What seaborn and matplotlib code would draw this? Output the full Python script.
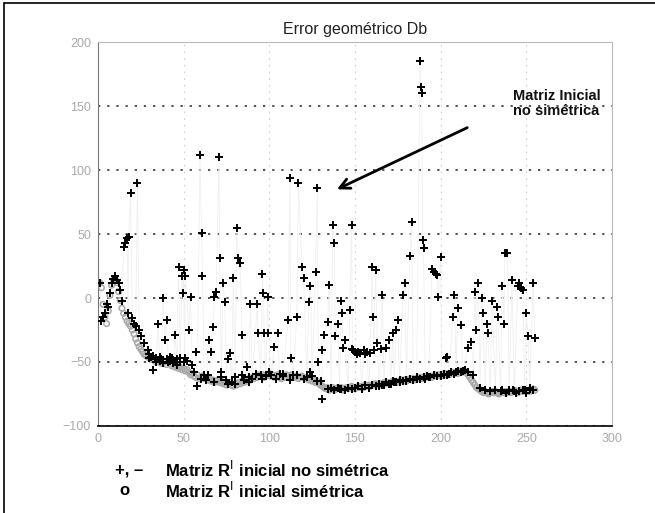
import matplotlib
matplotlib.use("Agg")
import matplotlib.pyplot as plt
import seaborn as sns
import numpy as np
import pandas as pd

sns.set_style("white")
plt.rcParams['font.family'] = ['Liberation Sans Narrow', 'Liberation Sans', 'DejaVu Sans']

title = "Error geométrico Db"
xticks = [0, 50, 100, 150, 200, 250, 300]
yticks = [-100, -50, 0, 50, 100, 150, 200]

# Series "+" : Matriz R inicial no simétrica (scattered points)
plus_x = [1, 2, 3, 4, 5, 6, 7, 8, 9, 10, 11, 12, 13, 14, 15, 16, 17, 18, 17.5, 19, 20, 21, 22, 23, 24, 25, 27, 29, 30,
          31, 32, 33, 34, 35, 36, 37, 38, 39, 40, 41, 42, 43, 44, 45, 46, 47, 48, 49, 49.5, 50, 51, 50.5,
          53, 54, 55, 56, 57, 58, 59.5, 60.5, 61, 62, 63, 65, 66, 67, 68, 69, 70.6, 71, 72, 73, 74, 75, 76, 77, 78, 79,
          80, 81, 82, 83, 84, 85, 87, 88, 89, 90, 93, 93.5, 95, 96, 96.5, 97, 98, 99, 99.5,
          101, 103, 105, 106, 108, 111, 112, 112.5, 114, 116, 117, 119, 120, 122, 123, 124, 125, 127, 128, 128.5,
          130, 130.5, 131, 132, 134, 135, 136, 137, 138, 138.5, 140, 141, 142, 142.5, 143, 144, 146, 147, 148, 148.5,
          149, 150,
          151, 152, 153, 154, 155, 156, 157, 158, 159, 160, 160.5, 161, 162, 163, 164, 165, 166, 167, 168, 170, 171,
          172, 173, 174, 175, 176, 178, 179, 180, 182, 183, 184, 186, 188, 188.5, 189, 189.5, 190, 191, 193, 195,
          196, 197, 198, 198.5, 200, 200.5,
          202, 203, 204, 205, 207, 208, 209, 210, 212, 213, 216, 218, 219, 220, 220.5, 222, 223, 224, 224.5, 226,
          227, 227.5, 229, 230, 232, 233, 233.5, 235, 236, 237, 237.5, 239, 240, 241.6, 243, 245, 246, 247, 248,
          249, 250, 251, 252, 254, 255]
plus_y = [12, -18, -15, -12, -5, -7, 4, 12, 15, 17, 14, 12, 6, -2, 40, 43, 47, 48, -12, 82, -16, -20, -22, 90, -25, -30, -35, -41, -44,
          -46, -56, -48, -47, -20, -49, -48, 0, -33, -17, -50, -49, -47, -51, -29, -48, 24, -50, 17, 4, 22, 17, -47,
          -25, 1, -52, -58, -42, -69, 112, 51, 17, -60, -64, -33, -42, -23, 1, 5, 110, 31, -62, 12, -3, -64, -48, -43, -66, 16,
          -67, 55, 31, 27, -29, -64, -54, -62, -5, -63, -5, -27, -60, 19, 4, -27, -61, 1, -27,
          -60, -38, -27, -59, -61, -17, 94, -47, -60, -15, 90, 24, 16, -62, -3, 9, -61, 20, 86, -50,
          -65, -79, -41, -29, -19, 10, -70, 57, 43, -30, -20, -71, -2, -12, -39, -33, -70, -9, 57, -40,
          -41, -42,
          -44, -42, -43, -71, -41, -44, -42, -70, -43, 24, -15, -41, 22, -35, -69, -40, 2, -68, -39, -33, -67,
          -27, -66, -25, -17, -66, 2, 12, -65, 33, 59, -64, -63, 185, 165, 160, 45, 39, -63, -62, 23,
          20, 19, 18, 1, 32, -61,
          -60, -47, -46, -59, -15, 2, -58, -8, -21, -57, -39, -34, -60, 5, -25, 12, -70, 0, -12, -72,
          -20, -27, -73, -2, -72, -7, -15, -73, 9, -20, 35, 35, -72, 14, -73, 9, 12, 8, 6,
          -72, -12, -30, -70, 12, -31]

# "+" points lying along the lower band (dense dark run in the picture)
band_x = [30, 32, 34, 36, 38, 40, 42, 44, 46, 48, 50, 52,
          60, 64, 68, 72, 76, 80, 84, 88, 92, 96, 100, 104, 108, 112, 116, 120, 124, 128,
          134, 136, 138, 140, 142, 144, 146, 148, 150, 152, 154, 156, 158, 160, 162, 164, 166, 168, 170, 172,
          174, 176, 178, 180, 182, 184, 186, 188, 190, 192, 194, 196, 198, 200, 202, 204, 206, 208, 210, 212,
          214, 216,
          236, 238, 240, 242, 244, 246, 248, 250, 252, 254]
band_y = [-47, -45, -50, -46, -51, -48, -46, -49, -52, -47, -50, -49,
          -63, -60, -66, -58, -67, -62, -60, -66, -59, -63, -58, -63, -59, -64, -60, -63, -58, -65,
          -71, -70, -72, -70, -71, -72, -70, -71, -70, -69, -71, -68, -70, -68, -69, -67, -68, -66, -67, -65,
          -66, -64, -65, -64, -63, -64, -62, -63, -62, -61, -62, -60, -61, -60, -59, -60, -58, -59, -57, -58,
          -56, -58,
          -72, -74, -73, -72, -74, -73, -72, -74, -71, -72]

# Series "o" : Matriz R inicial simétrica, one value per sample 1..255
sym_y = [12, 8, -5, -15, -20, -10, 2, 10, 14, 15,
         12, 5, -2, -8, -12, -15, -18, -20, -22, -25,
         -28, -32, -35, -38, -40, -42, -44, -45, -46, -47,
         -48, -47, -49, -50, -48, -50, -51, -49, -50, -52,
         -50, -51, -53, -52, -54, -53, -55, -54, -56, -55,
         -57, -56, -58, -60, -59, -61, -62, -60, -63, -62,
         -61, -63, -62, -64, -63, -65, -64, -66, -65, -64,
         -66, -65, -67, -66, -68, -67, -66, -68, -69, -67,
         -68, -66, -67, -65, -66, -64, -65, -63, -64, -62,
         -63, -61, -62, -60, -61, -60, -62, -61, -60, -59,
         -61, -60, -62, -61, -60, -62, -63, -61, -62, -60,
         -61, -62, -60, -61, -62, -61, -63, -62, -61, -62,
         -63, -62, -64, -63, -65, -64, -66, -65, -67, -68,
         -69, -70, -71, -70, -72, -71, -70, -72, -71, -70,
         -71, -70, -72, -71, -70, -71, -70, -69, -70, -71,
         -70, -69, -70, -69, -70, -68, -69, -68, -69, -68,
         -68, -67, -68, -67, -68, -67, -66, -67, -66, -67,
         -66, -65, -66, -65, -66, -65, -64, -65, -64, -65,
         -64, -63, -64, -63, -64, -63, -62, -63, -62, -63,
         -62, -61, -62, -61, -62, -61, -60, -61, -60, -61,
         -60, -59, -60, -59, -60, -59, -58, -59, -58, -59,
         -58, -57, -58, -57, -58, -60, -62, -64, -66, -68,
         -70, -71, -72, -73, -74, -73, -74, -75, -74, -73,
         -74, -73, -74, -75, -74, -73, -74, -73, -74, -73,
         -74, -73, -72, -73, -74, -73, -72, -73, -72, -73,
         -72, -73, -72, -71, -72]
sym_x = list(range(1, len(sym_y) + 1))

legend_symbols = ["+, \u2013", "o"]
legend_labels = ["Matriz R$^{\\mathrm{I}}$ inicial no simétrica",
                 "Matriz R$^{\\mathrm{I}}$ inicial simétrica"]
annot_text = "Matriz Inicial\nno simétrica"

df_plus = pd.DataFrame({"x": plus_x, "y": plus_y})
df_band = pd.DataFrame({"x": band_x, "y": band_y})
df_all_plus = pd.concat([df_plus, df_band], ignore_index=True)
df_sym = pd.DataFrame({"x": sym_x, "y": sym_y})

fig = plt.figure(figsize=(6.55, 5.13), dpi=100)
ax = fig.add_axes([0.1496, 0.1696, 0.7847, 0.7485])

# faint connecting line of the "+" series
sns.lineplot(data=df_plus, x="x", y="y", estimator=None, sort=True, ax=ax,
             color="#f0f0f0", linewidth=0.6, zorder=1)
sns.scatterplot(data=df_sym, x="x", y="y", ax=ax, marker="o", s=16,
                facecolor="none", edgecolor="#a8a8a8", linewidth=1.1, zorder=2)
sns.scatterplot(data=df_all_plus, x="x", y="y", ax=ax, marker="+", s=38,
                color="black", linewidth=1.4, zorder=3)

ax.set_xlim(0, 300)
ax.set_ylim(-100, 200)
ax.set_xticks(xticks)
ax.set_yticks(yticks)
ax.set_xlabel("")
ax.set_ylabel("")
ax.tick_params(axis="both", direction="in", length=3, labelsize=9,
               labelcolor="#aaaaaa", color="#666666", pad=5)
ax.yaxis.grid(True, color="black", linestyle=(0, (1.5, 4.5)), linewidth=1.1, alpha=0.85)
ax.xaxis.grid(True, color="#d0d0d0", linestyle=(0, (1.5, 4.5)), linewidth=0.8)
for side in ["top", "right"]:
    ax.spines[side].set_color("#bbbbbb")
    ax.spines[side].set_linewidth(0.8)
ax.spines["left"].set_color("#777777")
ax.spines["bottom"].set_color("black")
ax.spines["bottom"].set_linewidth(1.2)

ax.set_title(title, fontsize=11.5, color="#222222", pad=6)

ax.annotate("", xy=(138, 84), xytext=(217, 134),
            arrowprops=dict(arrowstyle="->", color="black", lw=2.0, mutation_scale=18))
ax.text(242, 152, annot_text, ha="left", va="center", fontsize=10.5, fontweight="bold",
        color="#111111", linespacing=1.15)

fig.text(0.176, 0.083, legend_symbols[0], fontsize=12, fontweight="bold", color="black", ha="left", va="center")
fig.text(0.183, 0.043, legend_symbols[1], fontsize=12, fontweight="bold", color="black", ha="left", va="center")
fig.text(0.252, 0.083, legend_labels[0], fontsize=12, fontweight="bold", color="black", ha="left", va="center")
fig.text(0.252, 0.043, legend_labels[1], fontsize=12, fontweight="bold", color="black", ha="left", va="center")

# figure border (left and top)
fig.add_artist(plt.Line2D([0.006, 0.006], [0.0, 0.994], color="black", lw=1.2, transform=fig.transFigure))
fig.add_artist(plt.Line2D([0.006, 1.0], [0.994, 0.994], color="black", lw=1.2, transform=fig.transFigure))

fig.savefig("out.png", dpi=100)
